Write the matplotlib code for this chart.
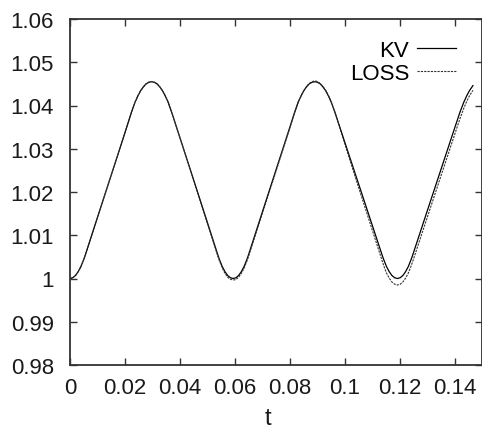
import matplotlib
matplotlib.use('Agg')
import matplotlib.pyplot as plt

# -------------------------
# Data (denser near the turning points)
# -------------------------
t = [0.0000, 0.0010, 0.0020, 0.0030, 0.0040, 0.0050, 0.0055, 0.0100, 0.0150, 0.0200,
     0.0223, 0.0237, 0.0247, 0.0257, 0.0267, 0.0277, 0.0287, 0.0297, 0.0307, 0.0317,
     0.0327, 0.0337, 0.0347, 0.0357, 0.0371, 0.0400, 0.0450, 0.0500, 0.0539, 0.0544,
     0.0554, 0.0564, 0.0574, 0.0584, 0.0594, 0.0604, 0.0614, 0.0624, 0.0634, 0.0644,
     0.0649, 0.0700, 0.0750, 0.0800, 0.0817, 0.0831, 0.0841, 0.0851, 0.0861, 0.0871,
     0.0881, 0.0891, 0.0901, 0.0911, 0.0921, 0.0931, 0.0941, 0.0951, 0.0965, 0.1000,
     0.1050, 0.1100, 0.1137, 0.1142, 0.1152, 0.1162, 0.1172, 0.1182, 0.1192, 0.1202,
     0.1212, 0.1222, 0.1232, 0.1242, 0.1247, 0.1300, 0.1350, 0.1400, 0.1420, 0.1434,
     0.1444, 0.1454, 0.1467]

kv = [1.00000, 1.00017, 1.00070, 1.00160, 1.00280, 1.00440, 1.00530, 1.01410, 1.02390, 1.03370,
      1.03830, 1.04080, 1.04220, 1.04340, 1.04430, 1.04500, 1.04537, 1.04550, 1.04537, 1.04500,
      1.04430, 1.04340, 1.04220, 1.04080, 1.03830, 1.03260, 1.02280, 1.01300, 1.00530, 1.00440,
      1.00280, 1.00160, 1.00070, 1.00017, 1.00000, 1.00017, 1.00070, 1.00160, 1.00280, 1.00440,
      1.00530, 1.01530, 1.02510, 1.03490, 1.03830, 1.04080, 1.04220, 1.04340, 1.04430, 1.04500,
      1.04537, 1.04550, 1.04537, 1.04500, 1.04430, 1.04340, 1.04220, 1.04080, 1.03830, 1.03160,
      1.02200, 1.01240, 1.00530, 1.00440, 1.00280, 1.00160, 1.00070, 1.00017, 1.00000, 1.00017,
      1.00070, 1.00160, 1.00280, 1.00440, 1.00530, 1.01550, 1.02510, 1.03470, 1.03850, 1.04080,
      1.04220, 1.04340, 1.04460]

loss = [1.00000, 1.00017, 1.00070, 1.00160, 1.00280, 1.00440, 1.00530, 1.01410, 1.02390, 1.03370,
        1.03830, 1.04080, 1.04220, 1.04340, 1.04430, 1.04500, 1.04540, 1.04555, 1.04540, 1.04500,
        1.04430, 1.04340, 1.04220, 1.04080, 1.03830, 1.03260, 1.02270, 1.01280, 1.00500, 1.00410,
        1.00250, 1.00120, 1.00030, 0.99982, 0.99965, 0.99975, 1.00030, 1.00120, 1.00240, 1.00400,
        1.00490, 1.01500, 1.02480, 1.03470, 1.03820, 1.04080, 1.04220, 1.04340, 1.04440, 1.04510,
        1.04550, 1.04570, 1.04555, 1.04510, 1.04440, 1.04350, 1.04230, 1.04090, 1.03840, 1.03120,
        1.02120, 1.01130, 1.00400, 1.00300, 1.00130, 1.00010, 0.99920, 0.99867, 0.99850, 0.99867,
        0.99920, 1.00010, 1.00130, 1.00290, 1.00380, 1.01400, 1.02360, 1.03320, 1.03700, 1.03940,
        1.04090, 1.04220, 1.04350]

x_ticks = [0, 0.02, 0.04, 0.06, 0.08, 0.1, 0.12, 0.14]
x_tick_labels = ["0", "0.02", "0.04", "0.06", "0.08", "0.1", "0.12", "0.14"]
y_ticks = [0.98, 0.99, 1.0, 1.01, 1.02, 1.03, 1.04, 1.05, 1.06]
y_tick_labels = ["0.98", "0.99", "1", "1.01", "1.02", "1.03", "1.04", "1.05", "1.06"]

plt.rcParams['font.family'] = ['Liberation Sans', 'DejaVu Sans']

fig = plt.figure(figsize=(4.82, 4.31), dpi=100)
ax = fig.add_axes([70 / 482, 1 - 366 / 431, 412 / 482, 346 / 431])

ax.plot(t, kv, color='black', lw=0.9, label='KV')
ax.plot(t, loss, color='#333333', lw=0.8, linestyle=(0, (2.0, 1.0)), label='LOSS')

ax.set_xlim(0, 0.15)
ax.set_ylim(0.98, 1.06)
ax.set_xticks(x_ticks)
ax.set_xticklabels(x_tick_labels)
ax.set_yticks(y_ticks)
ax.set_yticklabels(y_tick_labels)

ax.tick_params(direction='in', length=5, width=1.0, color='#333333',
               labelsize=16, labelcolor='#1a1a1a', top=True, right=True)
ax.tick_params(axis='y', pad=11.5)
ax.tick_params(axis='x', pad=8.5)
for s in ax.spines.values():
    s.set_color('#333333')
    s.set_linewidth(1.3)

ax.set_xlabel('t', fontsize=17, color='#1a1a1a')
ax.xaxis.set_label_coords((268 - 70) / 412, -(408 - 366) / 346)

leg = ax.legend(loc='upper right', bbox_to_anchor=((456 - 70) / 412, (366 - 41) / 346),
                frameon=False, fontsize=16, markerfirst=False, handlelength=1.75,
                handletextpad=0.35, labelspacing=0.1, borderpad=0, borderaxespad=0)

fig.savefig('out.png', dpi=100)
